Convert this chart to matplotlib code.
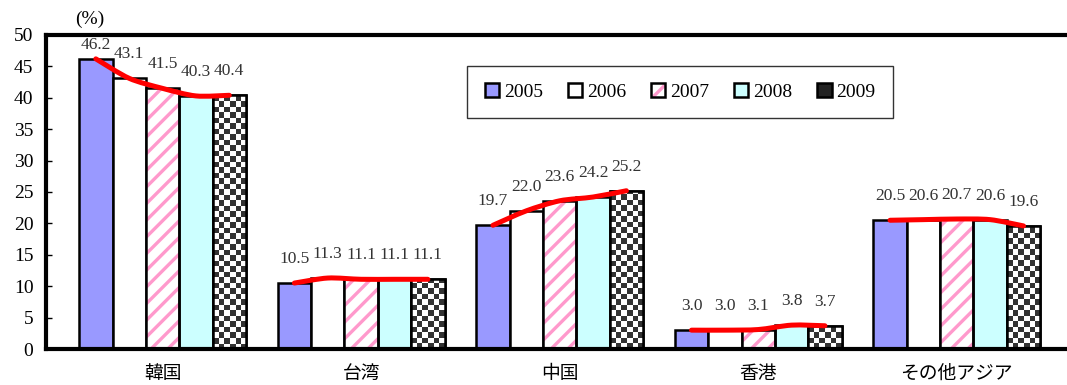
import numpy as np
import matplotlib
matplotlib.use("Agg")
import matplotlib.pyplot as plt
from matplotlib.patches import Patch, PathPatch
from matplotlib.path import Path
from matplotlib.colors import ListedColormap

# Share by region (%), 2005-2009
regions = ["韓国", "台湾", "中国", "香港", "その他アジア"]
years = ["2005", "2006", "2007", "2008", "2009"]
share_2005 = [46.2, 10.5, 19.7, 3.0, 20.5]
share_2006 = [43.1, 11.3, 22.0, 3.0, 20.6]
share_2007 = [41.5, 11.1, 23.6, 3.1, 20.7]
share_2008 = [40.3, 11.1, 24.2, 3.8, 20.6]
share_2009 = [40.4, 11.1, 25.2, 3.7, 19.6]
y_ticks = [0, 5, 10, 15, 20, 25, 30, 35, 40, 45, 50]

series = [share_2005, share_2006, share_2007, share_2008, share_2009]

plt.rcParams["font.family"] = "serif"
plt.rcParams["font.serif"] = ["Liberation Serif", "DejaVu Serif"]
plt.rcParams["hatch.linewidth"] = 2.4
SERIF = ["Liberation Serif", "DejaVu Serif"]
CJK = ["Noto Sans CJK JP", "DejaVu Sans"]

W, H = 1067, 385
fig = plt.figure(figsize=(W / 100, H / 100), dpi=100)
ax = fig.add_axes([46 / W, 36 / H, 1020 / W, 314 / H])

XMIN, XMAX = -0.587, 4.55
YMIN, YMAX = 0, 50
px_per_x = 1020 / (XMAX - XMIN)
px_per_y = 314 / (YMAX - YMIN)

bar_w = 0.168
x = np.arange(len(regions))
offsets = (np.arange(len(years)) - 2) * bar_w

face = ["#9999FF", "white", "white", "#CCFFFF", "white"]
edge_lw = 1.8
STRIPES = "//"

bars_by_year = []
for k, vals in enumerate(series):
    if k == 2:
        # pink diagonal stripes
        ax.bar(x + offsets[k], vals, bar_w, color="white", edgecolor="#FF99CC",
               hatch=STRIPES, linewidth=0, zorder=2)
        b = ax.bar(x + offsets[k], vals, bar_w, fill=False, edgecolor="black",
                   linewidth=edge_lw, zorder=3)
    else:
        b = ax.bar(x + offsets[k], vals, bar_w, color=face[k], edgecolor="black",
                   linewidth=edge_lw, zorder=2)
    bars_by_year.append(b)

# checkerboard fill for the last year
checker_cmap = ListedColormap(["white", "#333333"])
cell_px = 5.5
for rect in bars_by_year[4]:
    x0 = rect.get_x()
    w = rect.get_width()
    h = rect.get_height()
    nx = 6
    cw = w / nx
    ch = cell_px / px_per_y
    ny = int(np.ceil(h / ch))
    ii, jj = np.indices((ny, nx))
    board = (ii + jj) % 2
    im = ax.imshow(board, cmap=checker_cmap, origin="lower", aspect="auto",
                   interpolation="nearest", extent=(x0, x0 + nx * cw, 0, ny * ch),
                   zorder=2.5)
    im.set_clip_path(rect)
    ax.add_patch(plt.Rectangle((x0, 0), w, h, fill=False, edgecolor="black",
                               linewidth=edge_lw, zorder=3))

ax.set_aspect("auto")
ax.set_xlim(XMIN, XMAX)
ax.set_ylim(YMIN, YMAX)


def smooth_path(px, py, k=7.0):
    pts = np.column_stack([px, py])
    n = len(pts)
    verts = [pts[0]]
    codes = [Path.MOVETO]
    for i in range(n - 1):
        p0 = pts[max(i - 1, 0)]
        p1 = pts[i]
        p2 = pts[i + 1]
        p3 = pts[min(i + 2, n - 1)]
        c1 = p1 + (p2 - p0) / k
        c2 = p2 - (p3 - p1) / k
        verts += [c1, c2, p2]
        codes += [Path.CURVE4] * 3
    return Path(verts, codes)


# trend line across each region's bars
for i in range(len(regions)):
    vals = [s[i] for s in series]
    path = smooth_path(x[i] + offsets, np.array(vals))
    ax.add_patch(PathPatch(path, fill=False, edgecolor="#FF0000", linewidth=3.6,
                           capstyle="round", joinstyle="round", zorder=4))

# value labels
for k, vals in enumerate(series):
    for i, v in enumerate(vals):
        ly = min(v + 24 / px_per_y, YMAX - 10 / px_per_y)
        ax.text(x[i] + offsets[k], ly, f"{v:.1f}", ha="center", va="center",
                fontsize=12.5, family=SERIF, color="#333333", zorder=5)

# axes styling
for side in ["top", "left", "bottom"]:
    ax.spines[side].set_linewidth(3)
    ax.spines[side].set_color("black")
ax.spines["right"].set_visible(False)
ax.spines["top"].set_zorder(6)

ax.set_yticks(y_ticks)
ax.set_yticklabels([str(t) for t in y_ticks], family=SERIF, fontsize=14)
ax.tick_params(axis="y", direction="in", length=4, width=1, pad=9)
ax.set_xticks(x)
ax.set_xticklabels(regions, family=CJK, fontsize=13.5)
ax.tick_params(axis="x", length=0, pad=10)

fig.text(90 / W, 1 - 19 / H, "(%)", ha="center", va="center",
         fontsize=14, family=SERIF)

# legend
handles = [
    Patch(facecolor="#9999FF", edgecolor="black", linewidth=1.8),
    Patch(facecolor="white", edgecolor="black", linewidth=1.8),
    (Patch(facecolor="white", edgecolor="#FF99CC", hatch=STRIPES, linewidth=0),
     Patch(fill=False, edgecolor="black", linewidth=1.8)),
    Patch(facecolor="#CCFFFF", edgecolor="black", linewidth=1.8),
    Patch(facecolor="#222222", edgecolor="black", linewidth=1.8),
]
lx0 = (467 - 46) / 1020
lx1 = (893 - 46) / 1020
ly0 = (349 - 117) / 314
ly1 = (349 - 67) / 314
leg = ax.legend(handles, years, loc="center", ncol=5, mode="expand",
                bbox_to_anchor=(lx0, ly0, lx1 - lx0, ly1 - ly0),
                prop={"family": SERIF, "size": 14}, frameon=True, fancybox=False,
                edgecolor="black", handlelength=0.75, handleheight=0.75,
                handletextpad=0.25, borderaxespad=0, borderpad=0.9,
                columnspacing=1.0)
leg.get_frame().set_linewidth(1.0)
leg.set_zorder(7)

fig.savefig("out.png", dpi=100, facecolor="white")
